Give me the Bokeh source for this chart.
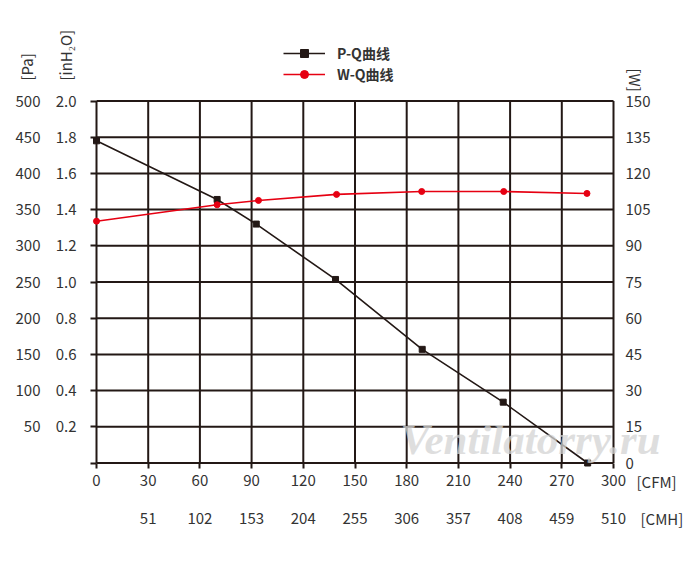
import math
from bokeh.plotting import figure
from bokeh.models import Range1d, LinearAxis, FixedTicker, Legend, LegendItem, Label
from bokeh.embed import file_html
from bokeh.resources import INLINE

# ---- data ----
cfm_ticks = [0, 30, 60, 90, 120, 150, 180, 210, 240, 270, 300]
cmh_labels = ["", "51", "102", "153", "204", "255", "306", "357", "408", "459", "510"]
pa_ticks = [0, 50, 100, 150, 200, 250, 300, 350, 400, 450, 500]
pa_labels = ["", "50", "100", "150", "200", "250", "300", "350", "400", "450", "500"]
inh2o_labels = ["", "0.2", "0.4", "0.6", "0.8", "1.0", "1.2", "1.4", "1.6", "1.8", "2.0"]
w_ticks = [0, 15, 30, 45, 60, 75, 90, 105, 120, 135, 150]

pq_cfm = [0, 70, 92.7, 138.7, 189, 236, 285]
pq_pa = [445, 364, 330, 253.5, 157, 84, 0]
wq_cfm = [0, 70, 94, 139.3, 188.7, 236.3, 284.6]
wq_w = [100.2, 107, 108.8, 111.3, 112.5, 112.5, 111.7]

series_names = ["P-Q曲线", "W-Q曲线"]

FONT = "Noto Sans CJK SC"
TXT = "#333333"
INK = "#231815"
RED = "#e60012"

# ---- layout (pixels) ----
W, H = 690, 550
X0, X1 = 96.0, 613.0      # pixel x of CFM 0 and CFM 300
Y0, Y1 = 462.5, 100.5     # pixel y of Pa 0 and Pa 500
xmin, xmax = cfm_ticks[0], cfm_ticks[-1]
ymin, ymax = pa_ticks[0], pa_ticks[-1]
kx = (X1 - X0) / (xmax - xmin)
ky = (Y0 - Y1) / (ymax - ymin)
wr = w_ticks[-1] / pa_ticks[-1]

def dx(px):
    return xmin + (px - X0) / kx

def dy(py):
    return ymin + (Y0 - py) / ky

p = figure(width=W, height=H, min_border=0,
           x_range=Range1d(dx(0), dx(W)), y_range=Range1d(dy(H), dy(0)),
           x_axis_location=None, y_axis_location=None,
           output_backend="svg", toolbar_location=None,
           background_fill_color="white", border_fill_color="white")
p.outline_line_color = None
p.xgrid.visible = False
p.ygrid.visible = False
p.extra_y_ranges = {"w": Range1d(dy(H) * wr, dy(0) * wr)}

# grid / box lines drawn from the tick arrays
p.segment(x0=cfm_ticks, y0=[ymin] * len(cfm_ticks), x1=cfm_ticks, y1=[ymax] * len(cfm_ticks),
          line_color=INK, line_width=2)
p.segment(x0=[xmin] * len(pa_ticks), y0=pa_ticks, x1=[xmax] * len(pa_ticks), y1=pa_ticks,
          line_color=INK, line_width=2)

def style_axis(ax, tick_out, standoff):
    ax.major_label_text_font = FONT
    ax.major_label_text_font_size = "15px"
    ax.major_label_text_color = TXT
    ax.major_tick_in = 0
    ax.major_tick_out = tick_out
    ax.major_tick_line_color = INK
    ax.major_tick_line_width = 2
    ax.minor_tick_line_color = None
    ax.axis_line_color = None
    ax.major_label_standoff = standoff

# left: inH2O (inner, with ticks)
in_axis = LinearAxis(ticker=FixedTicker(ticks=pa_ticks), fixed_location=xmin,
                     major_label_overrides={t: l for t, l in zip(pa_ticks, inh2o_labels)})
style_axis(in_axis, 6, 14)
p.add_layout(in_axis, "left")

# left: Pa (outer)
pa_axis = LinearAxis(ticker=FixedTicker(ticks=pa_ticks), fixed_location=xmin,
                     major_label_overrides={t: l for t, l in zip(pa_ticks, pa_labels)})
style_axis(pa_axis, 0, 56)
p.add_layout(pa_axis, "left")

# right: W
w_axis = LinearAxis(y_range_name="w", ticker=FixedTicker(ticks=w_ticks), fixed_location=xmax)
style_axis(w_axis, 0, 12)
p.add_layout(w_axis, "right")

# bottom: CFM
cfm_axis = LinearAxis(ticker=FixedTicker(ticks=cfm_ticks), fixed_location=ymin)
style_axis(cfm_axis, 5, 7)
p.add_layout(cfm_axis, "below")

# bottom: CMH
cmh_axis = LinearAxis(ticker=FixedTicker(ticks=cfm_ticks), fixed_location=ymin,
                      major_label_overrides={t: l for t, l in zip(cfm_ticks, cmh_labels)})
style_axis(cmh_axis, 0, 50)
p.add_layout(cmh_axis, "below")

# curves
pq_line = p.line(pq_cfm, pq_pa, line_color=INK, line_width=1.6)
pq_pts = p.scatter(pq_cfm, pq_pa, marker="square", size=6, fill_color=INK, line_color=INK)
wq_line = p.line(wq_cfm, wq_w, line_color=RED, line_width=1.6, y_range_name="w")
wq_pts = p.scatter(wq_cfm, wq_w, marker="circle", size=6, fill_color=RED, line_color=RED,
                   y_range_name="w")

legend = Legend(items=[LegendItem(label=series_names[0], renderers=[pq_line, pq_pts]),
                       LegendItem(label=series_names[1], renderers=[wq_line, wq_pts])],
                location=(283, H - 42.7 - 41), orientation="vertical",
                padding=0, margin=0, spacing=1,
                glyph_width=42, glyph_height=20, label_height=20, label_standoff=12,
                label_text_font=FONT, label_text_font_size="14px", label_text_color=TXT,
                label_text_font_style="bold",
                border_line_color=None, background_fill_alpha=0)
p.add_layout(legend, "center")

def add_label(text, px, py, angle=0.0, align="left"):
    p.add_layout(Label(x=dx(px), y=dy(py), text=text, angle=angle, text_align=align,
                       text_baseline="middle", text_font=FONT, text_font_size="15px",
                       text_color=TXT))

add_label("[Pa]", 26, 80, angle=math.pi / 2)
add_label("[inH₂O]", 64.5, 80, angle=math.pi / 2)
add_label("[W]", 635, 68, angle=-math.pi / 2)
add_label("[CFM]", 636, 480.7)
add_label("[CMH]", 640, 518)

# watermark
p.add_layout(Label(x=dx(400), y=dy(439), text="Ventilatorry.ru", text_font="Liberation Serif",
                   text_font_style="bold italic", text_font_size="43px",
                   text_color="#d4d4d4", text_alpha=0.75, text_baseline="alphabetic",
                   level="overlay"))

open("out.html", "w").write(file_html(p, INLINE))
